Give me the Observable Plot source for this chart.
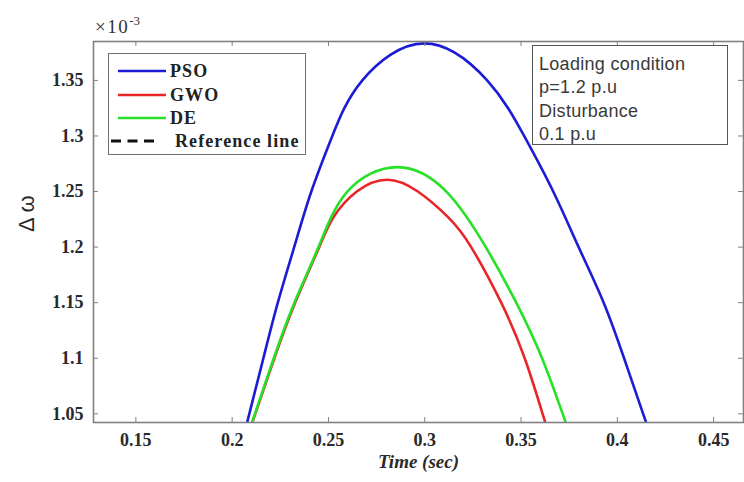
<!DOCTYPE html>
<html><head><meta charset="utf-8">
<script src="https://cdn.jsdelivr.net/npm/d3@7"></script>
<script src="https://cdn.jsdelivr.net/npm/@observablehq/plot@0.6"></script>
<style>
body{margin:0;background:#fff;}
#wrap{position:relative;width:744px;height:482px;overflow:hidden;}
#wrap > svg{position:absolute;left:0;top:0;}
.legend{position:absolute;left:108px;top:53px;width:196px;height:100px;border:1.5px solid #707070;background:#fff;font-family:"Liberation Serif",serif;font-weight:bold;font-size:18px;color:#222;}
.row{position:absolute;left:0;height:22px;width:100%;}
.row svg{position:absolute;left:0;top:0;}
.lab{position:absolute;left:61px;top:0;line-height:22px;white-space:nowrap;letter-spacing:1.1px;}
.note{position:absolute;left:532px;top:45px;width:196px;height:100px;border:1.2px solid #555;background:#fff;font-family:"Liberation Sans",Arial,sans-serif;font-size:18px;color:#3a3a3a;line-height:23.4px;padding:7px 0 0 6px;box-sizing:border-box;white-space:nowrap;letter-spacing:0.3px;}
.exp{position:absolute;left:95px;top:14px;font-family:"Liberation Serif",serif;font-size:19px;color:#333;letter-spacing:1.5px;}
.exp sup{font-size:13px;position:relative;top:-1px;letter-spacing:0;}
</style>
</head><body>
<div id="wrap"></div>
<script>
// Time (sec) and Δω (×10^-3)
const tPSO = [0.2060,0.2089,0.2162,0.2237,0.2322,0.2411,0.2520,0.2676,0.2997,0.3324,0.3516,0.3667,0.3799,0.3929,0.4035,0.4134,0.4174];
const vPSO = [1.030,1.050,1.100,1.150,1.200,1.250,1.300,1.350,1.3833,1.350,1.300,1.250,1.200,1.150,1.100,1.050,1.030];
const tGWO = [0.2080,0.2120,0.2219,0.2327,0.2452,0.2525,0.2647,0.2805,0.2964,0.3122,0.3241,0.3397,0.3519,0.3612,0.3648];
const vGWO = [1.030,1.050,1.100,1.150,1.200,1.2267,1.250,1.2606,1.250,1.2267,1.200,1.150,1.100,1.050,1.030];
const tDE = [0.2079,0.2118,0.2216,0.2323,0.2448,0.2598,0.2858,0.3112,0.3317,0.3475,0.3609,0.3716,0.3759];
const vDE = [1.030,1.050,1.100,1.150,1.200,1.250,1.2720,1.250,1.200,1.150,1.100,1.050,1.030];
const xTicks = [0.15,0.2,0.25,0.3,0.35,0.4,0.45];
const yTicks = [1.05,1.1,1.15,1.2,1.25,1.3,1.35];
const xDomain = [0.128,0.4655];
const yDomain = [1.0422,1.385];
const seriesNames = ["PSO","GWO","DE","Reference line"];
const seriesColors = ["#1c1cd6","#e8262a","#27e027","#111"];
const noteLines = ["Loading condition","p=1.2 p.u","Disturbance","0.1 p.u"];

const toRows = (t,v) => t.map((d,i)=>({t:d,v:v[i]}));
const W=744,H=482,mL=93,mR=1,mT=41,mB=60;
const plotH=H-mT-mB, plotW=W-mL-mR;
const fmt = d => String(+d.toFixed(2));
const axisColor="#808080";
const lineOpts = (c)=>({x:"t",y:"v",stroke:c,strokeWidth:2.6,curve:"natural",clip:true});

const chart = Plot.plot({
  width:W,height:H,marginLeft:mL,marginRight:mR,marginTop:mT,marginBottom:mB,
  x:{domain:xDomain},y:{domain:yDomain},
  style:{fontFamily:"'Liberation Serif',serif",background:"#fff"},
  marks:[
    Plot.line(toRows(tPSO,vPSO),lineOpts(seriesColors[0])),
    Plot.line(toRows(tGWO,vGWO),lineOpts(seriesColors[1])),
    Plot.line(toRows(tDE,vDE),lineOpts(seriesColors[2])),
    Plot.frame({stroke:axisColor,strokeWidth:1.6}),
    Plot.ruleX(xTicks,{x:d=>d,insetTop:plotH-5,stroke:axisColor}),
    Plot.ruleX(xTicks,{x:d=>d,insetBottom:plotH-5,stroke:axisColor}),
    Plot.ruleY(yTicks,{y:d=>d,insetRight:plotW-5,stroke:axisColor}),
    Plot.ruleY(yTicks,{y:d=>d,insetLeft:plotW-5,stroke:axisColor}),
    Plot.axisX(xTicks,{tickSize:0,tickPadding:11,label:null,tickFormat:fmt,fontSize:18,fontWeight:"bold",fill:"#2a2a2a",letterSpacing:"0.5px"}),
    Plot.axisY(yTicks,{tickSize:0,tickPadding:10,label:null,tickFormat:fmt,fontSize:18,fontWeight:"bold",fill:"#2a2a2a",letterSpacing:"1px"}),
    Plot.text(["Time (sec)"],{frameAnchor:"bottom",dy:45,text:d=>d,fontSize:19,fontWeight:"bold",fontStyle:"italic",fill:"#2a2a2a",letterSpacing:"0.6px"}),
    Plot.text(["Δ ω"],{frameAnchor:"left",dx:-67,rotate:-90,text:d=>d,fontSize:22,fontFamily:"'Liberation Sans',sans-serif",fill:"#2a2a2a"})
  ]
});
const wrap=document.getElementById("wrap");
wrap.appendChild(chart);

// exponent label
const exp=document.createElement("div");
exp.className="exp";
exp.innerHTML="×10<sup>-3</sup>";
wrap.appendChild(exp);

// legend
const lg=document.createElement("div");
lg.className="legend";
const rowTops=[6,30,53,76];
const NS="http://www.w3.org/2000/svg";
seriesNames.forEach((n,i)=>{
  const r=document.createElement("div");
  r.className="row";r.style.top=rowTops[i]+"px";
  const s=document.createElementNS(NS,"svg");
  s.setAttribute("width","60");s.setAttribute("height","22");
  const ln=document.createElementNS(NS,"line");
  const dashed = n==="Reference line";
  ln.setAttribute("x1",dashed?2:9);ln.setAttribute("x2",dashed?47:57);
  ln.setAttribute("y1",11);ln.setAttribute("y2",11);
  ln.setAttribute("stroke",seriesColors[i]);
  ln.setAttribute("stroke-width",dashed?3.2:2.6);
  if(dashed) ln.setAttribute("stroke-dasharray","10,6.5");
  s.appendChild(ln);
  const l=document.createElement("div");
  l.className="lab";l.textContent=n;
  if(dashed) l.style.left="66px";
  r.appendChild(s);r.appendChild(l);lg.appendChild(r);
});
wrap.appendChild(lg);

// annotation
const note=document.createElement("div");
note.className="note";
note.innerHTML=noteLines.join("<br>");
wrap.appendChild(note);
</script>
</body></html>
